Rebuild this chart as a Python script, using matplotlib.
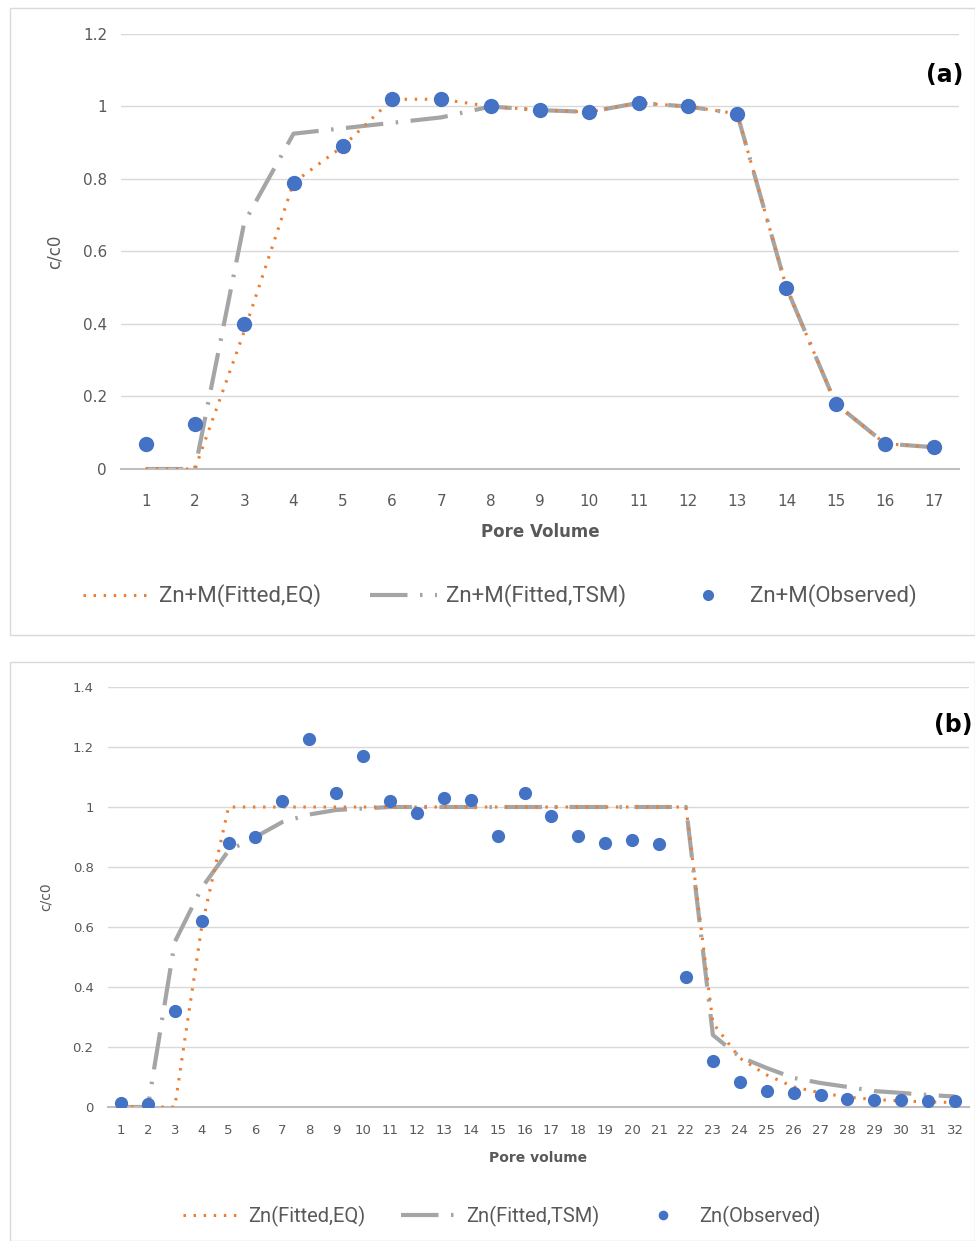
import matplotlib.pyplot as plt
from matplotlib.patches import Rectangle

# ---- panel (a) data: Zn+M ----
pv_a = list(range(1, 18))
eq_a = [0, 0, 0.38, 0.79, 0.89, 1.02, 1.02, 1.0, 0.99, 0.985, 1.01, 1.0, 0.98, 0.5, 0.18, 0.07, 0.06]
tsm_a = [0, 0, 0.68, 0.925, 0.94, 0.955, 0.97, 1.0, 0.99, 0.985, 1.01, 1.0, 0.98, 0.5, 0.18, 0.07, 0.06]
obs_a = [0.07, 0.124, 0.40, 0.79, 0.89, 1.02, 1.02, 1.0, 0.99, 0.985, 1.01, 1.0, 0.98, 0.5, 0.18, 0.07, 0.06]

# ---- panel (b) data: Zn ----
pv_b = list(range(1, 33))
eq_b = [0, 0, 0, 0.6, 1.0, 1.0, 1.0, 1.0, 1.0, 1.0, 1.0, 1.0, 1.0, 1.0, 1.0, 1.0,
        1.0, 1.0, 1.0, 1.0, 1.0, 1.0, 0.28, 0.163, 0.107, 0.067, 0.047, 0.033, 0.025, 0.02, 0.017, 0.015]
tsm_b = [0, 0, 0.55, 0.73, 0.855, 0.9, 0.95, 0.975, 0.99, 0.995, 1.0, 1.0, 1.0, 1.0, 1.0, 1.0,
         1.0, 1.0, 1.0, 1.0, 1.0, 1.0, 0.24, 0.167, 0.13, 0.097, 0.08, 0.067, 0.053, 0.047, 0.04, 0.035]
obs_b = [0.013, 0.01, 0.32, 0.62, 0.88, 0.90, 1.02, 1.227, 1.047, 1.17, 1.02, 0.98, 1.03, 1.023, 0.903, 1.047,
         0.97, 0.903, 0.88, 0.89, 0.877, 0.433, 0.153, 0.083, 0.053, 0.047, 0.04, 0.027, 0.023, 0.023, 0.02, 0.02]

ORANGE = '#ED7D31'
GRAY = '#A5A5A5'
BLUE = '#4472C4'
TXT = '#595959'
LEGFONT = ['Roboto', 'DejaVu Sans']

W, H = 975, 1241
fig = plt.figure(figsize=(W / 100, H / 100), dpi=100)

# chart borders
fig.patches.append(Rectangle((10 / W, 1 - 635 / H), 965 / W, 627 / H, transform=fig.transFigure,
                             fill=False, edgecolor='#D9D9D9', lw=1))
fig.patches.append(Rectangle((10 / W, 0), 965 / W, 1 - 662 / H, transform=fig.transFigure,
                             fill=False, edgecolor='#D9D9D9', lw=1))


def setup(ax, x, ymax, ystep, tsize, xlabel, lsize, xpad):
    ax.set_xlim(x[0] - 0.5, x[-1] + 0.5)
    ax.set_ylim(0, ymax)
    ticks = [round(i * ystep, 1) for i in range(int(round(ymax / ystep)) + 1)]
    ax.set_yticks(ticks)
    ax.set_yticklabels([f'{t:g}' for t in ticks])
    ax.set_xticks(x)
    ax.grid(axis='y', color='#D9D9D9', lw=1)
    ax.set_axisbelow(True)
    for s in ['top', 'right', 'left']:
        ax.spines[s].set_visible(False)
    ax.spines['bottom'].set_color('#BFBFBF')
    ax.spines['bottom'].set_linewidth(1.5)
    ax.tick_params(length=0, labelsize=tsize, colors=TXT)
    ax.tick_params(axis='y', pad=10)
    ax.tick_params(axis='x', pad=xpad)
    ax.set_xlabel(xlabel, fontsize=lsize, color=TXT, fontweight='bold', labelpad=10)
    ax.set_ylabel('c/c0', fontsize=lsize, color=TXT, labelpad=14)


order = [1, 0, 2]

# ---- panel (a) ----
ax1 = fig.add_axes([121 / W, 1 - 469 / H, 838 / W, 435 / H])
setup(ax1, pv_a, 1.2, 0.2, 11, 'Pore Volume', 12, 18)
ax1.plot(pv_a, tsm_a, color=GRAY, lw=3, dashes=(9, 3, 0.6, 3), label='Zn+M(Fitted,TSM)', zorder=2)
ax1.plot(pv_a, eq_a, color=ORANGE, lw=2.2, linestyle=(0, (0.8, 2.5)), label='Zn+M(Fitted,EQ)', zorder=3)
ax1.plot(pv_a, obs_a, 'o', color=BLUE, ms=10, label='Zn+M(Observed)', zorder=4)
ax1.text(1.005, 0.905, '(a)', transform=ax1.transAxes, ha='right', va='center',
         fontsize=17, fontweight='bold', color='black')
h, l = ax1.get_legend_handles_labels()
fig.legend([h[i] for i in order], [l[i] for i in order], loc='center', ncol=3,
           bbox_to_anchor=(0.513, 1 - 596 / H), frameon=False, handlelength=3.0,
           handletextpad=0.4, columnspacing=2.2, markerscale=0.7,
           prop={'family': LEGFONT, 'size': 16}, labelcolor=TXT)

# ---- panel (b) ----
ax2 = fig.add_axes([107.5 / W, 1 - 1107 / H, 861 / W, 420 / H])
setup(ax2, pv_b, 1.4, 0.2, 9.5, 'Pore volume', 10, 12)
ax2.plot(pv_b, tsm_b, color=GRAY, lw=3, dashes=(9, 3, 0.6, 3), label='Zn(Fitted,TSM)', zorder=2)
ax2.plot(pv_b, eq_b, color=ORANGE, lw=2.2, linestyle=(0, (0.8, 2.5)), label='Zn(Fitted,EQ)', zorder=3)
ax2.plot(pv_b, obs_b, 'o', color=BLUE, ms=8.5, label='Zn(Observed)', zorder=4)
ax2.text(1.005, 0.91, '(b)', transform=ax2.transAxes, ha='right', va='center',
         fontsize=17, fontweight='bold', color='black')
h, l = ax2.get_legend_handles_labels()
fig.legend([h[i] for i in order], [l[i] for i in order], loc='center', ncol=3,
           bbox_to_anchor=(0.515, 1 - 1216 / H), frameon=False, handlelength=2.8,
           handletextpad=0.4, columnspacing=1.8, markerscale=0.7,
           prop={'family': LEGFONT, 'size': 14.5}, labelcolor=TXT)

fig.savefig('out.png', dpi=100)
